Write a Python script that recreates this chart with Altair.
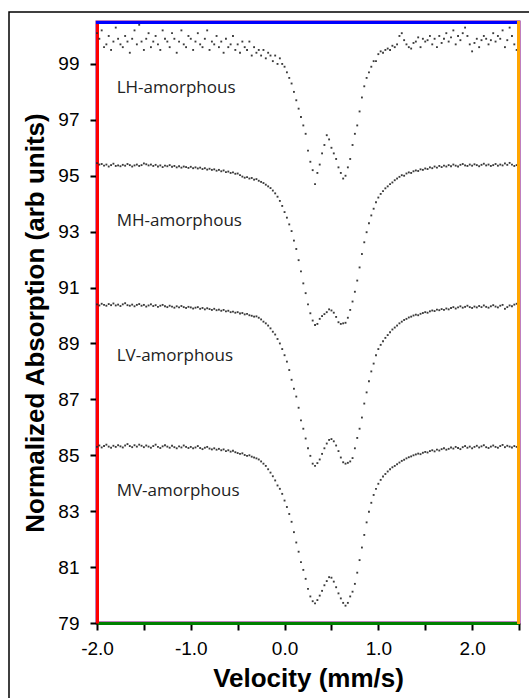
import altair as alt
import pandas as pd

# velocity channels (mm/s), evenly spaced grid
velocity = [round(-2.0 + 0.025 * i, 3) for i in range(181)]

lh = [
    100.1, 99.9, 100.2, 99.6, 99.7, 100.0, 99.5, 99.8, 100.3, 99.9,
    99.7, 99.6, 100.0, 99.8, 99.4, 99.9, 100.2, 99.7, 100.4, 99.8,
    99.5, 99.9, 100.1, 99.6, 99.8, 100.0, 99.7, 99.5, 100.2, 99.9,
    99.8, 99.6, 100.1, 99.9, 99.4, 99.8, 100.2, 99.7, 99.6, 100.0,
    99.9, 99.5, 99.8, 100.1, 99.7, 99.6, 99.9, 100.2, 99.5, 99.8,
    99.7, 100.0, 99.6, 99.8, 99.4, 99.9, 99.6, 99.7, 100.0, 99.5,
    99.7, 99.4, 99.8, 99.6, 99.5, 99.8, 99.3, 99.6, 99.4, 99.5,
    99.3, 99.5, 99.2, 99.4, 99.3, 99.1, 99.3, 99.0, 99.2, 99.0,
    98.9, 98.7, 98.5, 98.3, 98.0, 97.7, 97.4, 97.1, 96.8, 96.5,
    95.9, 95.5, 95.2, 94.7, 95.1, 95.4, 95.8, 96.1, 96.45, 96.3,
    96.0, 95.8, 95.6, 95.3, 95.1, 94.9, 95.0, 95.3, 95.6, 96.1,
    96.5, 96.8, 97.3, 97.8, 98.2, 98.5, 98.7, 98.9, 99.1, 99.1,
    99.35, 99.45, 99.4, 99.5, 99.55, 99.5, 99.65, 99.6, 99.7, 100.0,
    100.1, 99.85, 99.7, 99.6, 99.55, 99.75, 99.8, 99.95, 99.6, 99.9,
    99.8, 99.85, 100.0, 99.7, 99.9, 99.6, 100.0, 99.75, 99.9, 100.1,
    99.8, 99.95, 100.2, 99.7, 100.0, 99.85, 100.1, 100.3, 100.0, 99.7,
    99.45, 99.75, 99.9, 99.6, 99.85, 100.0, 99.9, 99.7, 99.85, 100.1,
    99.8, 100.0, 99.9, 100.2, 99.6, 99.85, 100.3, 100.0, 99.7, 99.5,
    99.5,
]

mh = [
    95.45, 95.40, 95.42, 95.36, 95.40, 95.33, 95.38, 95.43, 95.35, 95.37,
    95.34, 95.39, 95.36, 95.42, 95.38, 95.33, 95.37, 95.40, 95.35, 95.38,
    95.44, 95.41, 95.37, 95.40, 95.35, 95.39, 95.33, 95.37, 95.31, 95.36,
    95.34, 95.38, 95.32, 95.35, 95.30, 95.34, 95.29, 95.33, 95.31, 95.28,
    95.32, 95.27, 95.30, 95.26, 95.29, 95.24, 95.27, 95.22, 95.25, 95.21,
    95.23, 95.18, 95.21, 95.16, 95.19, 95.13, 95.15, 95.10, 95.12, 95.07,
    95.08, 95.02, 94.97, 94.93, 94.95, 94.90, 94.92, 94.86, 94.88, 94.82,
    94.78, 94.74, 94.68, 94.62, 94.56, 94.47, 94.37, 94.25, 94.10, 93.92,
    93.70, 93.50, 93.26, 93.02, 92.68, 92.38, 91.98, 91.58, 91.15, 90.80,
    90.40, 90.08, 89.82, 89.66, 89.70, 89.88, 89.98, 90.05, 90.12, 90.22,
    90.18, 90.10, 89.95, 89.76, 89.70, 89.72, 89.74, 89.92, 90.20, 90.50,
    90.85, 91.25, 91.72, 92.20, 92.62, 92.98, 93.30, 93.58, 93.82, 94.05,
    94.22, 94.35, 94.45, 94.55, 94.62, 94.70, 94.76, 94.84, 94.90, 94.96,
    95.02, 95.00, 95.08, 95.12, 95.10, 95.16, 95.19, 95.17, 95.23, 95.21,
    95.26, 95.24, 95.30, 95.27, 95.33, 95.29, 95.35, 95.31, 95.36, 95.33,
    95.38, 95.34, 95.40, 95.36, 95.33, 95.39, 95.42, 95.37, 95.35, 95.40,
    95.36, 95.41, 95.38, 95.34, 95.39, 95.43, 95.37, 95.40, 95.35, 95.38,
    95.42, 95.36, 95.40, 95.37, 95.44, 95.39, 95.46, 95.40, 95.35, 95.38,
    95.34,
]

lv = [
    90.40, 90.36, 90.42, 90.38, 90.35, 90.41, 90.37, 90.43, 90.36, 90.39,
    90.34, 90.40, 90.44, 90.37, 90.35, 90.39, 90.33, 90.38, 90.41, 90.35,
    90.38, 90.32, 90.36, 90.40, 90.34, 90.37, 90.31, 90.35, 90.38, 90.33,
    90.30, 90.35, 90.32, 90.28, 90.33, 90.29, 90.34, 90.30, 90.27, 90.31,
    90.29, 90.25, 90.28, 90.30, 90.24, 90.27, 90.22, 90.26, 90.23, 90.20,
    90.24, 90.19, 90.21, 90.17, 90.20, 90.15, 90.17, 90.12, 90.14, 90.10,
    90.12, 90.07, 90.09, 90.04, 90.06, 90.01, 89.99, 89.96, 89.97, 89.92,
    89.86, 89.78, 89.72, 89.64, 89.54, 89.42, 89.32, 89.16, 89.00, 88.80,
    88.58, 88.35, 88.05, 87.70, 87.38, 87.10, 86.70, 86.25, 85.95, 85.60,
    85.25, 84.98, 84.70, 84.62, 84.72, 84.85, 85.05, 85.25, 85.42, 85.55,
    85.58, 85.50, 85.35, 85.15, 84.92, 84.75, 84.70, 84.73, 84.78, 84.90,
    85.25, 85.62, 85.95, 86.35, 86.85, 87.25, 87.65, 88.00, 88.28, 88.58,
    88.80, 88.95, 89.08, 89.20, 89.30, 89.40, 89.50, 89.57, 89.64, 89.72,
    89.78, 89.84, 89.88, 89.93, 89.96, 90.00, 90.03, 90.01, 90.06, 90.09,
    90.12, 90.10, 90.15, 90.18, 90.16, 90.21, 90.19, 90.23, 90.20, 90.25,
    90.22, 90.27, 90.30, 90.25, 90.29, 90.33, 90.28, 90.31, 90.35, 90.30,
    90.27, 90.32, 90.29, 90.34, 90.30, 90.36, 90.31, 90.28, 90.33, 90.37,
    90.32, 90.29, 90.35, 90.38, 90.24, 90.30, 90.36, 90.33, 90.39, 90.42,
    90.45,
]

mv = [
    85.30, 85.35, 85.28, 85.33, 85.38, 85.31, 85.27, 85.34, 85.30, 85.36,
    85.32, 85.28, 85.35, 85.40, 85.33, 85.29, 85.36, 85.31, 85.38, 85.34,
    85.29, 85.35, 85.31, 85.27, 85.33, 85.38, 85.30, 85.26, 85.32, 85.36,
    85.31, 85.27, 85.34, 85.29, 85.25, 85.32, 85.28, 85.35, 85.30, 85.26,
    85.30, 85.25, 85.28, 85.33, 85.26, 85.22, 85.27, 85.30, 85.24, 85.21,
    85.25, 85.20, 85.23, 85.18, 85.21, 85.15, 85.18, 85.13, 85.16, 85.11,
    85.08, 85.05, 85.07, 85.01, 84.98, 85.00, 84.95, 84.92, 84.89, 84.85,
    84.78, 84.70, 84.62, 84.50, 84.38, 84.25, 84.10, 83.92, 83.80, 83.62,
    83.38, 83.15, 82.90, 82.62, 82.25, 81.88, 81.55, 81.18, 80.90, 80.58,
    80.22, 79.95, 79.78, 79.70, 79.82, 79.98, 80.15, 80.35, 80.50, 80.64,
    80.62, 80.48, 80.28, 80.06, 79.88, 79.72, 79.62, 79.72, 79.95, 80.12,
    80.40, 80.80, 81.25, 81.70, 82.15, 82.60, 82.98, 83.30, 83.58, 83.80,
    83.98, 84.12, 84.24, 84.33, 84.42, 84.50, 84.57, 84.62, 84.68, 84.74,
    84.80, 84.84, 84.89, 84.93, 84.96, 85.00, 85.03, 85.06, 85.04, 85.09,
    85.12, 85.10, 85.15, 85.18, 85.14, 85.20, 85.17, 85.22, 85.25, 85.20,
    85.23, 85.28, 85.24, 85.30, 85.26, 85.22, 85.29, 85.33, 85.27, 85.31,
    85.25, 85.30, 85.34, 85.28, 85.32, 85.36, 85.29, 85.26, 85.31, 85.35,
    85.30, 85.27, 85.33, 85.37, 85.29, 85.34, 85.31, 85.28, 85.33, 85.30,
    85.32,
]

series_names = ["LH-amorphous", "MH-amorphous", "LV-amorphous", "MV-amorphous"]
label_x = [-1.79, -1.79, -1.79, -1.79]
label_y = [98.14, 93.38, 88.55, 83.72]

rows = []
for name, vals in zip(series_names, [lh, mh, lv, mv]):
    for v, a in zip(velocity, vals):
        rows.append({"series": name, "velocity": v, "absorption": a})
df = pd.DataFrame(rows)
labels_df = pd.DataFrame({"name": series_names, "lx": label_x, "ly": label_y})
frame_df = pd.DataFrame({"k": [0]})

x_scale = alt.Scale(domain=[-2.0, 2.5], nice=False, zero=False)
y_scale = alt.Scale(domain=[79, 100.5], nice=False, zero=False)

x_ticks = [-2.0, -1.5, -1.0, -0.5, 0.0, 0.5, 1.0, 1.5, 2.0, 2.5]
y_ticks = [79, 81, 83, 85, 87, 89, 91, 93, 95, 97, 99]

points = alt.Chart(df).mark_square(size=3.5, filled=True, color="#262626", opacity=0.9).encode(
    x=alt.X("velocity:Q", scale=x_scale,
            axis=alt.Axis(values=x_ticks, title="Velocity (mm/s)",
                          labelExpr="datum.value % 1 == 0 ? (datum.value < 0 ? '-' : '') + format(abs(datum.value), '.1f') : ''",
                          grid=False, domain=True, domainWidth=3, domainColor="green",
                          tickSize=7, tickWidth=2, tickColor="black",
                          labelFontSize=19, labelPadding=9, labelColor="black",
                          labelFont="Liberation Sans", titleFont="Liberation Sans",
                          titleFontSize=26, titleFontWeight="bold", titlePadding=7,
                          titleColor="black", labelFlush=False)),
    y=alt.Y("absorption:Q", scale=y_scale,
            axis=alt.Axis(values=y_ticks, title="Normalized Absorption (arb units)", format="d",
                          grid=False, domain=True, domainWidth=3, domainColor="red",
                          tickSize=7, tickWidth=2, tickColor="black",
                          labelFontSize=19, labelPadding=11, labelColor="black",
                          labelFont="Liberation Sans", titleFont="Liberation Sans",
                          titleFontSize=26, titleFontWeight="bold", titlePadding=9,
                          titleColor="black", labelFlush=False)),
    detail="series:N",
)

texts = alt.Chart(labels_df).mark_text(
    align="left", baseline="middle", font="Open Sans", fontSize=17, color="#222222"
).encode(
    x=alt.X("lx:Q", scale=x_scale),
    y=alt.Y("ly:Q", scale=y_scale),
    text="name:N",
)

top_border = alt.Chart(frame_df).mark_rule(color="blue", strokeWidth=3).encode(
    x=alt.value(-1), x2=alt.value(423), y=alt.value(0.5)
)
right_border = alt.Chart(frame_df).mark_rule(color="orange", strokeWidth=3).encode(
    x=alt.value(421.5), y=alt.value(-1), y2=alt.value(602)
)

outer_frame = alt.Chart(frame_df).mark_rect(
    filled=False, stroke="black", strokeWidth=1.5
).encode(
    x=alt.value(-88), x2=alt.value(440), y=alt.value(-10), y2=alt.value(690)
)

chart = alt.layer(points, texts, top_border, right_border, outer_frame).properties(
    width=422, height=601,
    autosize=alt.AutoSizeParams(type="none"),
    padding={"left": 97, "top": 22, "right": 10, "bottom": 75},
    background="white",
).configure_view(stroke="purple", strokeWidth=3)

chart.save("out.html", embed_options={"renderer": "svg", "actions": False})
